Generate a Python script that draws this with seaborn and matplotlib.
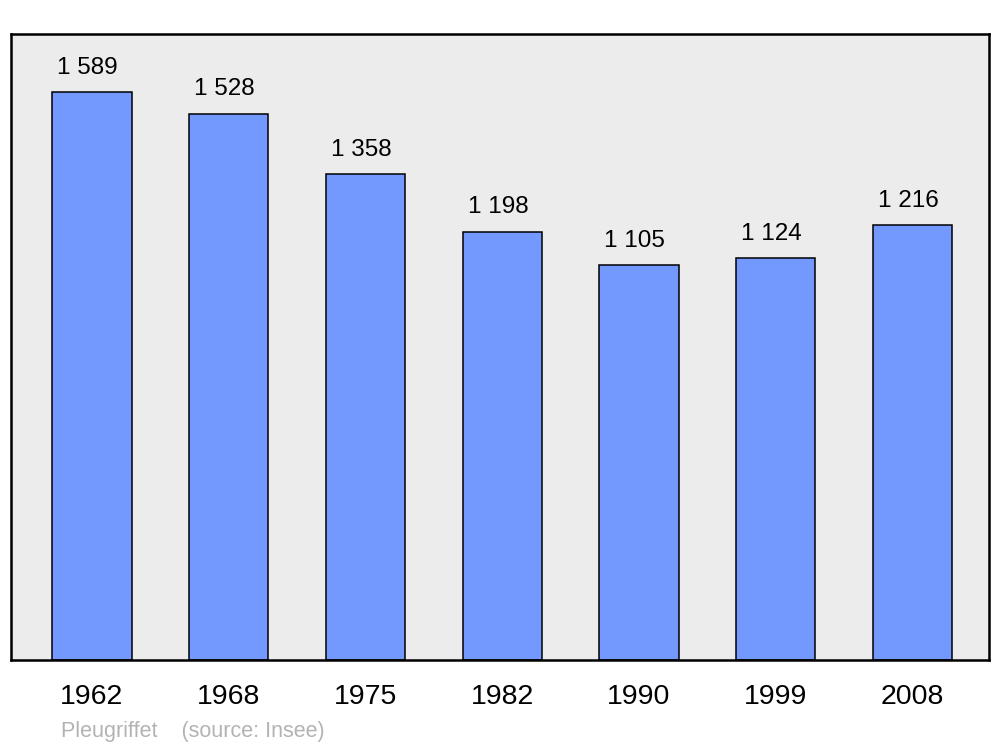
import matplotlib
matplotlib.use("Agg")
import matplotlib.pyplot as plt
import seaborn as sns

# data
years = ["1962", "1968", "1975", "1982", "1990", "1999", "2008"]
population = [1589, 1528, 1358, 1198, 1105, 1124, 1216]
labels = ["1 589", "1 528", "1 358", "1 198", "1 105", "1 124", "1 216"]

sns.set_style("white")
plt.rcParams['font.family'] = ['Liberation Sans', 'DejaVu Sans']

fig = plt.figure(figsize=(10, 7.47), dpi=100)
ax = fig.add_axes([0.011, 0.1165, 0.978, 0.838])
ax.set_facecolor('#ececec')

sns.barplot(x=years, y=population, color='#7399ff', saturation=1,
            width=0.58, edgecolor='black', linewidth=1.1, ax=ax)

# value labels above the bars
for i, (v, lab) in enumerate(zip(population, labels)):
    ax.annotate(lab, (i, v), xytext=(-3, 13.2), textcoords='offset points',
                ha='center', va='baseline', fontsize=17.5, color='black')

ax.set_xlim(-0.592, 6.56)
ax.set_ylim(0, 1751)
ax.set_yticks([])
ax.tick_params(axis='x', length=0, pad=17, labelsize=20.5, labelcolor='black')
ax.set_xlabel('')
ax.set_ylabel('')

for s in ax.spines.values():
    s.set_visible(True)
    s.set_color('black')
    s.set_linewidth(1.8)

fig.text(0.061, 1 - 737 / 747, "Pleugriffet    (source: Insee)",
         fontsize=15.5, color='#b3b3b3', ha='left', va='baseline')

fig.savefig('out.png', dpi=100)
